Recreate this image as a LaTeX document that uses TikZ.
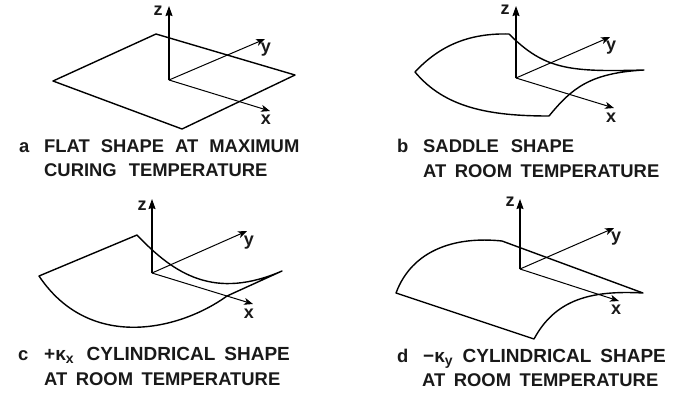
\documentclass[tikz,border=0pt]{standalone}
\usepackage{fontspec}
\setmainfont{Liberation Sans}
\newfontfamily\capfont{Liberation Sans Bold}
\newfontfamily\axfont{Liberation Sans Bold}
\newcommand{\capsetup}{\capfont\fontsize{18.4}{19}\selectfont}
\newcommand{\capwide}{\capfont\fontsize{19}{19}\selectfont}
\newcommand{\wsp}[1][8.5pt]{\hspace*{#1}}
\usetikzlibrary{arrows.meta}
\tikzset{
  sheet/.style={line width=1.4pt,line join=round},
  axis/.style={line width=1pt,-{Stealth[length=9pt,width=7pt,inset=2.5pt]}},
  zaxis/.style={line width=1.2pt,-{Stealth[length=10pt,width=7pt,inset=1pt]}},
  axlabel/.style={font=\axfont\fontsize{18}{18}\selectfont,inner sep=0pt,text=black!90},
  caplabel/.style={font=\capsetup,inner sep=0pt,anchor=base west,text=black!90},
  capwidelabel/.style={font=\capwide,inner sep=0pt,anchor=base west,text=black!90},
}
\newcommand{\axes}[8]{% name, origin x,y, z top y, y end x,y, x end x,y
  \coordinate (#1o) at (#2,#3);
  \coordinate (#1z) at (#2,#4);
  \coordinate (#1y) at (#5,#6);
  \coordinate (#1x) at (#7,#8);
  \draw[zaxis] (#1o) -- (#1z);
  \draw[axis] (#1o) -- (#1y);
  \draw[axis] (#1o) -- (#1x);
}
\begin{document}
\begin{tikzpicture}[x=1pt,y=-1pt]
\useasboundingbox (0,0) rectangle (674,392);
% panel a
\axes{a}{169}{80}{6}{265}{39}{270}{111}
\coordinate (a1) at (53,81);
\coordinate (a2) at (156,34);
\coordinate (a3) at (295,75);
\coordinate (a4) at (182,129);
\draw[sheet] (a1) -- (a2) -- (a3) -- (a4) -- cycle;
\node[axlabel] (azl) at (158,11) {z};
\node[axlabel] (ayl) at (266,50) {y};
\node[axlabel] (axl) at (266,120) {x};
\node[caplabel] (acap0) at (19,152) {a};
\node[caplabel] (acap1) at (44,152) {FLAT\wsp[11pt]{}SHAPE\wsp[11pt]{}AT\wsp[11pt]{}MAXIMUM};
\node[caplabel] (acap2) at (44,176) {CURING\wsp[12pt]{}TEMPERATURE};
% panel b
\axes{b}{516}{78}{6}{610}{37}{614}{108}
\coordinate (b1) at (415,72);
\coordinate (b2) at (509,34);
\coordinate (b3) at (644,70);
\coordinate (b4) at (549,116);
\draw[sheet] (b1) .. controls (440,45) and (470,33) .. (b2)
  .. controls (545,70) and (570,72) .. (b3)
  .. controls (590,73) and (572,88) .. (b4)
  .. controls (490,116) and (445,108) .. (b1) -- cycle;
\node[axlabel] (bzl) at (505,10) {z};
\node[axlabel] (byl) at (611,48) {y};
\node[axlabel] (bxl) at (611,118) {x};
\node[caplabel] (bcap0) at (397,152) {b};
\node[caplabel] (bcap1) at (423,152) {SADDLE\wsp[12pt]{}SHAPE};
\node[caplabel] (bcap2) at (423,177) {AT\wsp{}ROOM\wsp{}TEMPERATURE};
% panel c
\axes{c}{152}{273}{199}{247}{231}{253}{304}
\coordinate (c1) at (39,276);
\coordinate (c2) at (137,235);
\coordinate (c3) at (282,271);
\coordinate (c4) at (227,296);
\draw[sheet] (c1) -- (c2) .. controls (175,275) and (215,300) .. (c3)
  -- (c4) .. controls (180,330) and (90,352) .. (c1) -- cycle;
\node[axlabel] (czl) at (142,206) {z};
\node[axlabel] (cyl) at (249,243) {y};
\node[axlabel] (cxl) at (249,314) {x};
\node[caplabel] (ccap0) at (18,360) {c};
\node[capwidelabel] (ccap1) at (44,360) {+κ\raisebox{-3pt}{\fontsize{14}{14}\selectfont x}\wsp[13pt]{}CYLINDRICAL\wsp[9pt]{}SHAPE};
\node[caplabel] (ccap2) at (44,385) {AT\wsp{}ROOM\wsp{}TEMPERATURE};
% panel d
\axes{d}{520}{269}{199}{614}{228}{619}{301}
\coordinate (d1) at (396,293);
\coordinate (d2) at (502,241);
\coordinate (d3) at (643,293);
\coordinate (d4) at (534,339);
\draw[sheet] (d1) .. controls (412,250) and (455,236) .. (d2) -- (d3)
  .. controls (590,290) and (555,300) .. (d4) -- (d1) -- cycle;
\node[axlabel] (dzl) at (510,202) {z};
\node[axlabel] (dyl) at (616,239) {y};
\node[axlabel] (dxl) at (616,310) {x};
\node[caplabel] (dcap0) at (397,362) {d};
\node[capwidelabel] (dcap1) at (423,362) {−κ\raisebox{-3pt}{\fontsize{14}{14}\selectfont y}\wsp[10pt]{}CYLINDRICAL\wsp[9pt]{}SHAPE};
\node[caplabel] (dcap2) at (422,386) {AT\wsp{}ROOM\wsp{}TEMPERATURE};
\end{tikzpicture}
\end{document}
